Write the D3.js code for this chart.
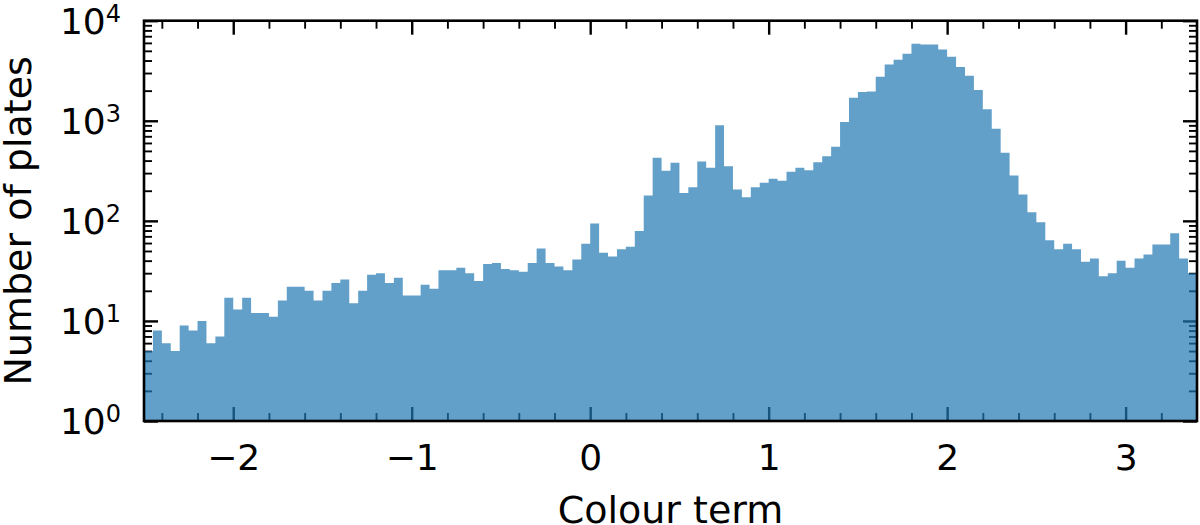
<!DOCTYPE html>
<html>
<head>
<meta charset="utf-8">
<script src="https://cdn.jsdelivr.net/npm/d3@7"></script>
<style>
  html, body { margin: 0; padding: 0; background: #fff; }
  svg { display: block; font-family: "DejaVu Sans", sans-serif; }
</style>
</head>
<body>
<svg id="chart" width="1200" height="525"></svg>
<script>
// ---- data ----
const binStart = -2.5;
const binWidth = 0.05;
const counts = [
  5, 8, 6, 5, 9, 8, 10, 6, 7, 17,
  13, 17, 12, 12, 11, 16, 22, 22, 20, 16,
  20, 24, 26, 15, 20, 29, 30, 24, 27, 18,
  18, 23, 21, 32, 32, 34, 30, 25, 37, 38,
  33, 32, 31, 38, 53, 38, 35, 32, 41, 59,
  94, 48, 44, 52, 55, 79, 179, 427, 316, 380,
  190, 217, 392, 339, 904, 352, 206, 172, 217, 240,
  263, 252, 309, 339, 320, 385, 443, 550, 970, 1698,
  1936, 1966, 2754, 3649, 4074, 4677, 5888, 5800, 5800, 5164,
  4365, 3450, 2818, 2032, 1300, 832, 479, 284, 183, 122,
  97, 64, 52, 59, 52, 39, 42, 28, 30, 40,
  34, 42, 46, 58, 58, 75, 42, 30
];
const xDomain = [-2.5, 3.4];
const yDomain = [1, 10000];
const xMajorTicks = [-2, -1, 0, 1, 2, 3];
const xMinorTicks = [-2.4, -2.2, -1.8, -1.6, -1.4, -1.2, -0.8, -0.6, -0.4, -0.2,
                     0.2, 0.4, 0.6, 0.8, 1.2, 1.4, 1.6, 1.8, 2.2, 2.4, 2.6, 2.8, 3.2];
const yMajorTicks = [1, 10, 100, 1000, 10000];
const yMajorExponents = ["0", "1", "2", "3", "4"];
const yMinorTicks = [2,3,4,5,6,7,8,9, 20,30,40,50,60,70,80,90,
                     200,300,400,500,600,700,800,900, 2000,3000,4000,5000,6000,7000,8000,9000];
const xLabel = "Colour term";
const yLabel = "Number of plates";

// ---- layout ----
const L = 144, R = 1197, T = 20.7, B = 421;
const svg = d3.select("#chart");
const x = d3.scaleLinear().domain(xDomain).range([L, R]);
const y = d3.scaleLog().domain(yDomain).range([B, T]);

const tickFont = 36;
const majorLen = 14, minorLen = 8;

// ---- ticks (drawn below the histogram) ----
function styleAxis(g, w) {
  g.select(".domain").remove();
  g.selectAll(".tick line").attr("stroke", "#000").attr("stroke-width", w);
}
// bottom
svg.append("g").attr("transform", `translate(0,${B})`)
  .call(d3.axisBottom(x).tickValues(xMajorTicks).tickSize(-majorLen).tickPadding(23)
        .tickFormat(d3.format("d")))
  .call(g => {
    styleAxis(g, 2.4);
    g.selectAll(".tick text").attr("font-size", tickFont).attr("fill", "#000")
      .attr("font-family", "DejaVu Sans");
  });
svg.append("g").attr("transform", `translate(0,${B})`)
  .call(d3.axisBottom(x).tickValues(xMinorTicks).tickSize(-minorLen).tickFormat(""))
  .call(g => styleAxis(g, 1.9));
// top
svg.append("g").attr("transform", `translate(0,${T})`)
  .call(d3.axisTop(x).tickValues(xMajorTicks).tickSize(-majorLen).tickFormat(""))
  .call(g => styleAxis(g, 2.4));
svg.append("g").attr("transform", `translate(0,${T})`)
  .call(d3.axisTop(x).tickValues(xMinorTicks).tickSize(-minorLen).tickFormat(""))
  .call(g => styleAxis(g, 1.9));
// left
svg.append("g").attr("transform", `translate(${L},0)`)
  .call(d3.axisLeft(y).tickValues(yMajorTicks).tickSize(-majorLen).tickFormat(""))
  .call(g => styleAxis(g, 2.4));
svg.append("g").attr("transform", `translate(${L},0)`)
  .call(d3.axisLeft(y).tickValues(yMinorTicks).tickSize(-minorLen).tickFormat(""))
  .call(g => styleAxis(g, 1.9));
// right
svg.append("g").attr("transform", `translate(${R},0)`)
  .call(d3.axisRight(y).tickValues(yMajorTicks).tickSize(-majorLen).tickFormat(""))
  .call(g => styleAxis(g, 2.4));
svg.append("g").attr("transform", `translate(${R},0)`)
  .call(d3.axisRight(y).tickValues(yMinorTicks).tickSize(-minorLen).tickFormat(""))
  .call(g => styleAxis(g, 1.9));

// y tick labels: 10^n
const yl = svg.append("g").attr("font-size", tickFont).attr("fill", "#000");
yMajorTicks.forEach((v, i) => {
  const t = yl.append("text")
    .attr("x", 121).attr("y", y(v) + 13)
    .attr("text-anchor", "end");
  t.append("tspan").text("10");
  t.append("tspan").attr("font-size", 24).attr("dy", -12).text(yMajorExponents[i]);
});

// ---- histogram (stepfilled) ----
const steps = counts.map((c, i) => ({ x: binStart + i * binWidth, c }));
steps.push({ x: binStart + counts.length * binWidth, c: counts[counts.length - 1] });
svg.append("clipPath").attr("id", "plotclip")
  .append("rect").attr("x", L).attr("y", T).attr("width", R - L).attr("height", B - T);
const area = d3.area()
  .curve(d3.curveStepAfter)
  .x(d => x(d.x))
  .y0(y(1))
  .y1(d => y(Math.max(d.c, 1)));
svg.append("path")
  .datum(steps)
  .attr("clip-path", "url(#plotclip)")
  .attr("d", area)
  .attr("fill", "#1f77b4")
  .attr("fill-opacity", 0.7)
  .attr("stroke", "none");

// ---- spines ----
svg.append("rect")
  .attr("x", L).attr("y", T).attr("width", R - L).attr("height", B - T)
  .attr("fill", "none").attr("stroke", "#000").attr("stroke-width", 2.6);

// ---- axis labels ----
svg.append("text")
  .attr("x", (L + R) / 2).attr("y", 523)
  .attr("text-anchor", "middle").attr("font-size", 38).attr("fill", "#000")
  .text(xLabel);
svg.append("text")
  .attr("transform", `translate(31,${(T + B) / 2}) rotate(-90)`)
  .attr("text-anchor", "middle").attr("font-size", 38).attr("fill", "#000")
  .text(yLabel);
</script>
</body>
</html>
